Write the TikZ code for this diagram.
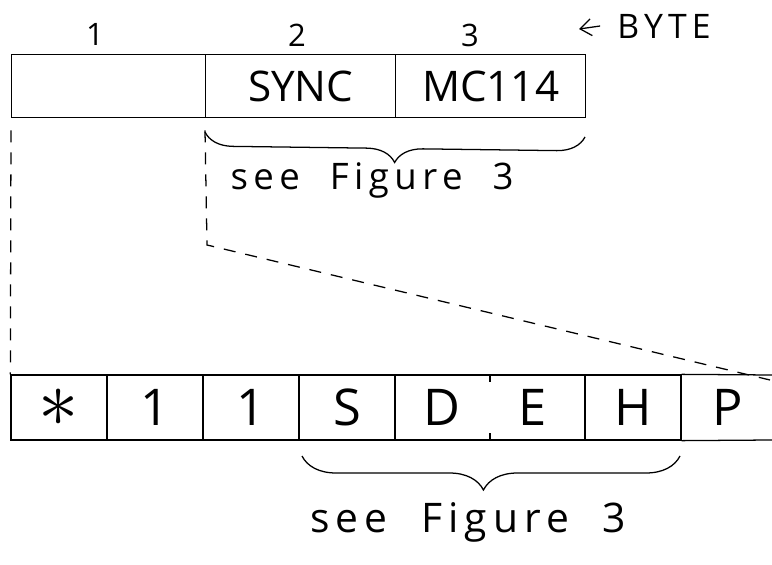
\documentclass[tikz,border=0pt]{standalone}
\usepackage{fontspec}
\usepackage{graphicx}
\setmainfont{Open Sans}
\newfontfamily\handfont[LetterSpace=15,WordSpace=2]{Open Sans}
\usetikzlibrary{arrows.meta, decorations.pathreplacing}

\begin{document}
\begin{tikzpicture}[x=0.025cm, y=-0.025cm, line width=0.9pt,
	bytebox/.style={draw, minimum height=1.575cm, inner sep=0pt, anchor=north west, font=\fontsize{30}{34}\selectfont},
	bitcell/.style={draw, minimum width=2.4cm, minimum height=1.625cm, inner sep=0pt, font=\fontsize{36}{40}\selectfont},
	bitlabel/.style={font=\fontsize{36}{40}\selectfont},
	bytenum/.style={font=\fontsize{22}{26}\selectfont},
	bracelbl/.style={font=\handfont\fontsize{26}{30}\selectfont},
	dashline/.style={dash pattern=on 0.3cm off 0.25cm}]

	\useasboundingbox (0,0) rectangle (772,565);

	% Byte fields
	\node[bytebox, minimum width=4.85cm] (b1) at (11,54) {};
	\node[bytebox, minimum width=4.75cm] (sync) at (205,54) {SYNC};
	\node[bytebox, minimum width=4.75cm] (mc) at (395,54) {MC114};

	% Byte numbers
	\node[bytenum] (n1) at (95,34) {1};
	\node[bytenum] (n2) at (297,35) {2};
	\node[bytenum] (n3) at (470,35) {3};
	\node[font=\handfont\fontsize{24}{28}\selectfont] (byte) at (664,26) {BYTE};
	\coordinate (bytetip) at (579,29);
	\draw[-{Straight Barb[length=8pt, width=12pt]}] ([xshift=-0.3cm]byte.west) -- (bytetip);

	% Bit cells
	\node[bitcell] (star) at (59,407.5) {\scalebox{2.3}{$\ast$}};
	\node[bitcell] (oneA) at (155,407.5) {1};
	\node[bitcell] (oneB) at (251,407.5) {1};
	\node[bitcell] (s) at (347,407.5) {S};
	\node[bitcell, minimum width=4.75cm] (de) at (490,407.5) {};
	\node[bitlabel] (d) at (442,407.5) {D};
	\node[bitlabel] (e) at (533,407.5) {E};
	\node[bitcell] (h) at (633,407.5) {H};
	\node[bitlabel] (p) at (728,407.5) {P};
	\coordinate (rowNE) at (772,375);
	\coordinate (rowSE) at (772,440);
	\draw (h.north east) -- (rowNE) (h.south east) -- (rowSE);
	\draw (de.north) -- ++(0,8) (de.south) -- ++(0,-8);

	% Expansion of byte 2
	\coordinate (bend) at (207,245);
	\coordinate (tail) at (770,380);
	\draw[dashline] ([yshift=-0.3cm]b1.south west) -- (star.north west);
	\draw[dashline] ([yshift=-0.3cm]sync.south west) -- (bend) -- (tail);

	% Braces
	\coordinate (topL) at (205,132);
	\coordinate (topR) at (585,137);
	\draw[decorate, decoration={brace, mirror, amplitude=0.7cm}] (topL) -- (topR);
	\node[bracelbl] (see1) at (372,180) {see Figure 3};
	\coordinate (botL) at (302,456);
	\coordinate (botR) at (680,456);
	\draw[decorate, decoration={brace, mirror, amplitude=0.85cm, aspect=0.48}] (botL) -- (botR);
	\node[bracelbl, font=\handfont\fontsize{29}{34}\selectfont] (see2) at (468,522) {see Figure 3};

\end{tikzpicture}
\end{document}
